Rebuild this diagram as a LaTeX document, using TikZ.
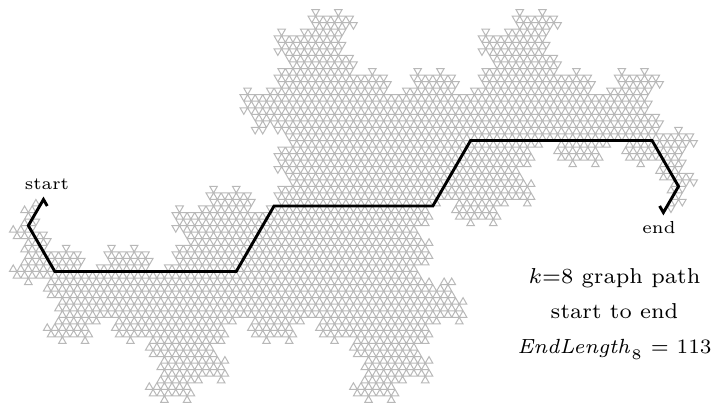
\documentclass[tikz,border=0pt]{standalone}
\usetikzlibrary{lindenmayersystems}
\pgfdeclarelindenmayersystem{Terdragon}{\rule{F -> F+F-F}}
\begin{document}
\begin{tikzpicture}[x=1pt,y=1pt,
    curve/.style={draw=black!28,line width=1pt,line join=miter},
    route/.style={draw=black,line width=2.9pt,line join=miter},
    small/.style={font=\fontsize{6}{6}\selectfont,scale=2.9,transform shape,inner sep=0pt},
    note/.style={font=\fontsize{7}{11.3}\selectfont,scale=3.08,transform shape,inner sep=0pt,align=center}]
    \def\U{7.56}
    \useasboundingbox (0,0) rectangle (714,403);
    \coordinate (start) at (47.25,197);
    % Curve, order 8
    \begin{scope}[shift={(start)},rotate=120]
        \draw[curve] (0,0) [l-system={Terdragon,axiom=F,order=8,angle=120,step=7.56pt}] lindenmayer system;
    \end{scope}
    % Path from start to end
    \draw[route] (start) -- ++(120:\U) -- ++(240:4*\U) -- ++(300:7*\U) -- ++(0:24*\U)
        -- ++(60:10*\U) -- ++(0:21*\U) -- ++(60:10*\U) -- ++(0:24*\U)
        -- ++(300:7*\U) -- ++(240:4*\U) -- ++(120:\U);
    % Labels
    \node[small] (startlabel) at (47,219) {start};
    \node[small] (endlabel) at (659,175) {end};
    \node[note] (lengthnote) at (614.5,89) {$k$=8 graph path\\start to end\\\scalebox{0.95}{$\mathit{EndLength}_8$ = 113}};
\end{tikzpicture}
\end{document}
